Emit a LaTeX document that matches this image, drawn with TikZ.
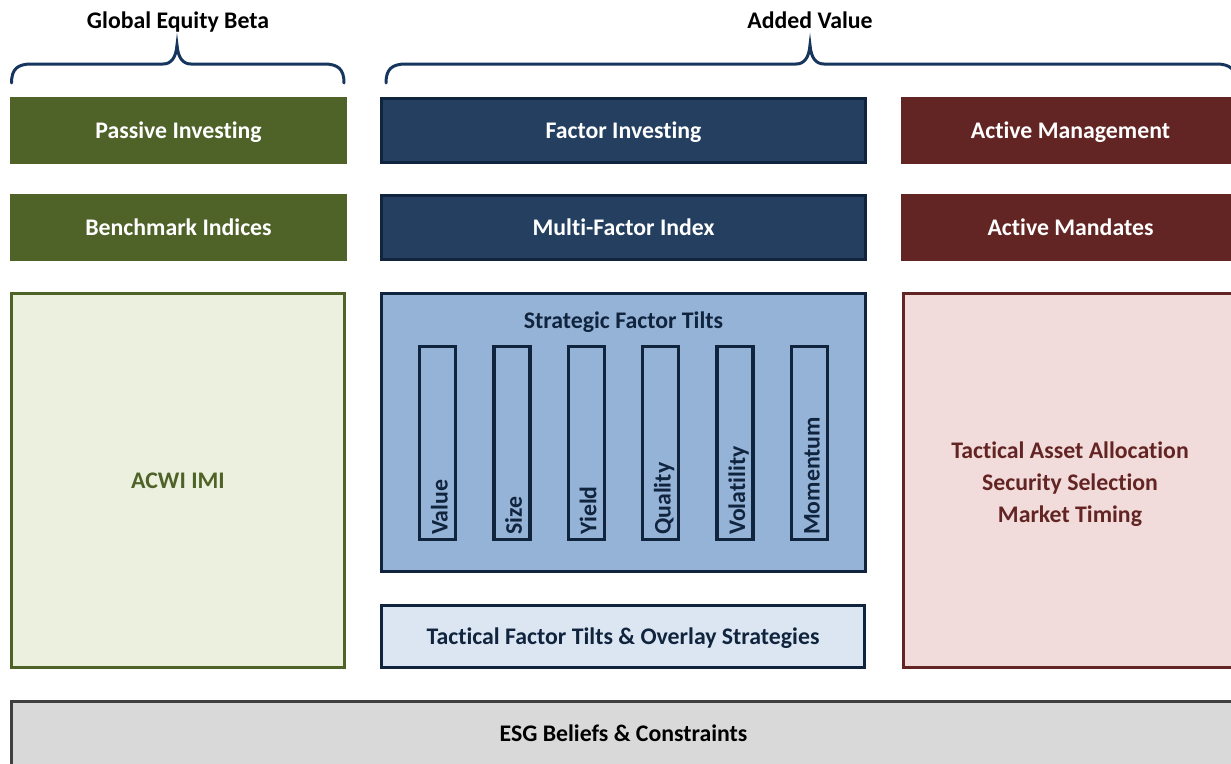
\documentclass[tikz,border=0pt]{standalone}
\usepackage{fontspec}
\setmainfont{Carlito}[Ligatures=NoCommon]
\begin{document}
\definecolor{olive}{HTML}{4F6228}
\definecolor{olivelight}{HTML}{EBF1DE}
\definecolor{navy}{HTML}{243F60}
\definecolor{navydark}{HTML}{10243E}
\definecolor{skyblue}{HTML}{95B3D7}
\definecolor{paleblue}{HTML}{DCE6F2}
\definecolor{maroon}{HTML}{632523}
\definecolor{pink}{HTML}{F2DCDB}
\definecolor{esggray}{HTML}{D9D9D9}
\definecolor{esgline}{HTML}{404040}
\definecolor{braceblue}{HTML}{17365D}
\newcommand\topbrace[3]{% left end, tip, right end
  \draw[bracestyle] (#1,83) .. controls (#1,69) and ({#1+6},64) .. ({#1+20},64)
    -- ({#2-14},64) .. controls ({#2-6},64) and ({#2-1},58) .. (#2,45)
    .. controls ({#2+1},58) and ({#2+6},64) .. ({#2+14},64)
    -- ({#3-20},64) .. controls ({#3-6},64) and (#3,69) .. (#3,83);}
\begin{tikzpicture}[x=1pt,y=-1pt,
  every node/.style={font=\fontsize{23.8}{32}\selectfont\bfseries, inner sep=0pt, align=center},
  oneline/.style={text height=17pt, text depth=2pt},
  band/.style={oneline, minimum width=337pt, minimum height=67pt, text=white},
  framed/.style={draw, line width=3pt},
  navybox/.style={framed, draw=navydark, line width=3.5pt},
  bar/.style={draw=navydark, line width=3.5pt, minimum width=36pt, minimum height=193pt},
  barlabel/.style={rotate=90, anchor=base west, text=navydark},
  bracestyle/.style={draw=braceblue, line width=3pt, line cap=round},
  heading/.style={oneline, text=black}]
\useasboundingbox (0,0) rectangle (1231,763);

% headings and braces
\node[heading] (beta) at (178,20.5) {Global Equity Beta};
\node[heading] (added) at (810,20.5) {Added Value};
\topbrace{11.5}{177}{344}
\topbrace{386}{810}{1236}

% left column
\node[band, fill=olive] (passive) at (178.5,130.5) {Passive Investing};
\node[band, fill=olive] (bench) at (178.5,227.5) {Benchmark Indices};
\node[framed, oneline, draw=olive, fill=olivelight, text=olive,
      minimum width=333pt, minimum height=374pt] (acwi) at (178,480.5) {ACWI IMI};

% middle column
\node[navybox, oneline, fill=navy, text=white, minimum width=484pt, minimum height=64pt]
  (factor) at (623.5,130.5) {Factor Investing};
\node[navybox, oneline, fill=navy, text=white, minimum width=484pt, minimum height=64pt]
  (multi) at (623.5,227.5) {Multi-Factor Index};
\node[navybox, fill=skyblue, minimum width=484pt, minimum height=278pt]
  (strategic) at (623.5,432.5) {};
\node[oneline, text=navydark] (stitle) at (623.5,321) {Strategic Factor Tilts};
\foreach \lbl [count=\i from 0] in {Value,Size,Yield,Quality,Volatility,Momentum}{
  \node[bar] (bar\i) at ({437.5+74.4*\i},443) {};
  \node[barlabel] (lbl\i) at ({447.5+74.4*\i},535) {\lbl};
}
\node[navybox, oneline, fill=paleblue, text=navydark, minimum width=483pt, minimum height=62pt]
  (tactical) at (623,636.5) {Tactical Factor Tilts \& Overlay Strategies};

% right column
\node[band, fill=maroon, minimum width=339pt] (activemgmt) at (1070.5,130.5) {Active Management};
\node[band, fill=maroon, minimum width=339pt] (mandates) at (1070.5,227.5) {Active Mandates};
\node[framed, draw=maroon, fill=pink,
      minimum width=335pt, minimum height=374pt] (activebox) at (1070.5,480.5) {};
\node[text=maroon] (activetext) at (1070,484.5)
  {Tactical Asset Allocation\\Security Selection\\Market Timing};

% foundation
\node[framed, oneline, draw=esgline, fill=esggray, text=black,
      minimum width=1224pt, minimum height=65pt] (esg) at (623.5,734) {ESG Beliefs \& Constraints};
\end{tikzpicture}
\end{document}
